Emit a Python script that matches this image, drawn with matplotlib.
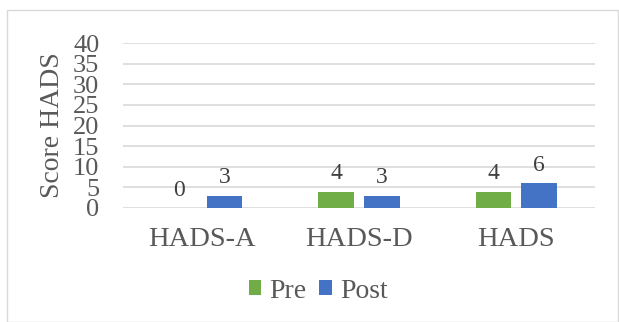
import matplotlib
matplotlib.use("Agg")
import matplotlib.pyplot as plt
import numpy as np
from matplotlib.patches import Rectangle

categories = ["HADS-A", "HADS-D", "HADS"]
pre = [0, 4, 4]
post = [3, 3, 6]
yticks = [0, 5, 10, 15, 20, 25, 30, 35, 40]

plt.rcParams['font.family'] = ['Liberation Serif', 'DejaVu Serif']
txt = '#595959'
W, H = 619, 322
fig = plt.figure(figsize=(W/100, H/100), dpi=100)
fig.patches.append(Rectangle((7/W, 0), (W-8)/W, (H-10)/H, transform=fig.transFigure,
                             fill=False, edgecolor='#d9d9d9', linewidth=1))
ax = fig.add_axes([123/W, 1-208/H, (595-123)/W, (208-43)/H])
x = np.arange(len(categories))
bw = 0.226
off = 0.145
ax.bar(x - off, pre, bw, color='#70ad47', label='Pre', zorder=3)
ax.bar(x + off, post, bw, color='#4472c4', label='Post', zorder=3)
for i in range(len(categories)):
    ax.text(x[i]-off, pre[i] + 1.8, str(pre[i]), ha='center', va='bottom', fontsize=17, color='#404040')
    ax.text(x[i]+off, post[i] + 1.8, str(post[i]), ha='center', va='bottom', fontsize=17, color='#404040')
ax.set_xlim(-0.5, 2.5)
ax.set_ylim(0, 40)
ax.set_yticks(yticks)
ax.set_yticklabels([str(t) for t in yticks], fontsize=19, color=txt)
ax.set_xticks(x)
ax.set_xticklabels(categories, fontsize=20.5, color=txt)
ax.tick_params(axis='y', length=0, pad=17)
ax.tick_params(axis='x', length=0, pad=14)
ax.grid(axis='y', color='#d9d9d9', linewidth=1.2, zorder=0)
for s in ax.spines.values():
    s.set_visible(False)
ax.set_ylabel('Score HADS', fontsize=20, color=txt)
ax.yaxis.set_label_coords(-0.122, 0.5)
leg = ax.legend(loc='center', bbox_to_anchor=(318/W, 1-291/H), bbox_transform=fig.transFigure,
                ncol=2, frameon=False, fontsize=20, handlelength=0.45, handleheight=0.45,
                handletextpad=0.3, columnspacing=0.45)
for t in leg.get_texts():
    t.set_color(txt)
fig.savefig('out.png', dpi=100)
